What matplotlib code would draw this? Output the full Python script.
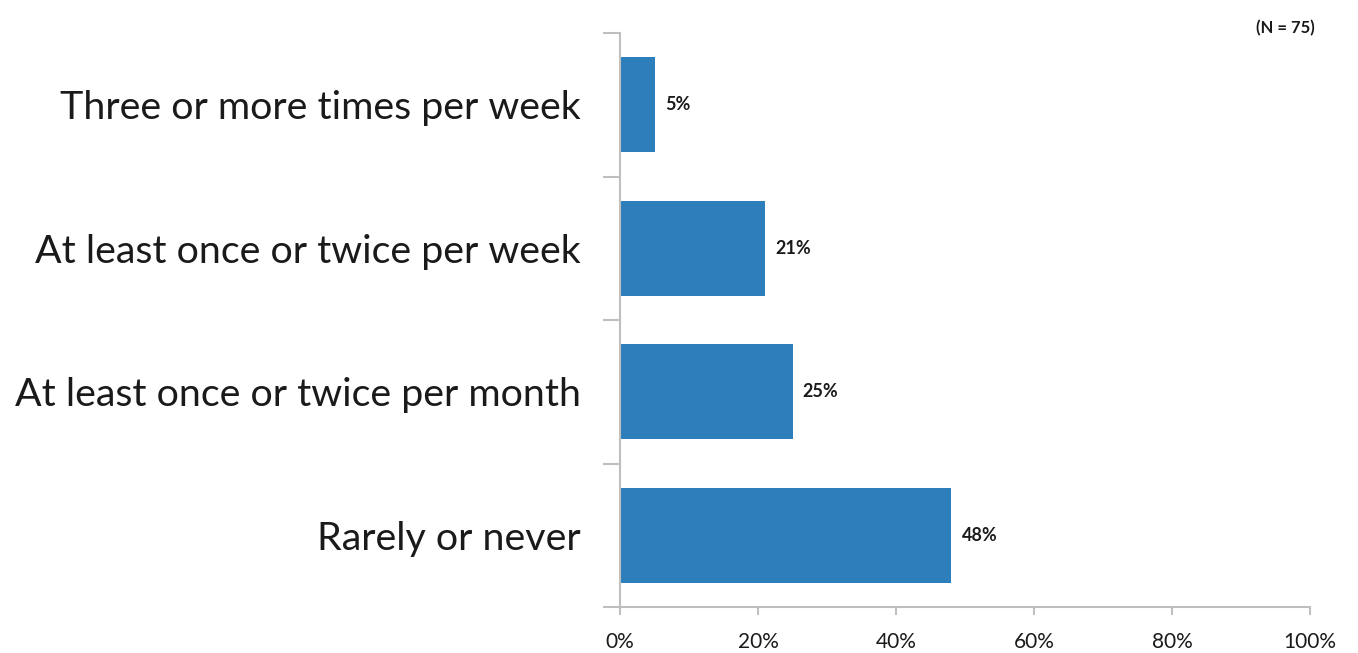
import matplotlib.pyplot as plt

categories = [
    "Three or more times per week",
    "At least once or twice per week",
    "At least once or twice per month",
    "Rarely or never",
]
values = [5, 21, 25, 48]
xticks = [0, 20, 40, 60, 80, 100]

plt.rcParams["font.family"] = ["Lato", "DejaVu Sans"]

fig = plt.figure(figsize=(13.58, 6.53), dpi=100)
ax = fig.add_axes([620 / 1358, 1 - 607 / 653, 690 / 1358, (607 - 33) / 653])

pos = list(range(len(categories)))
ax.barh(pos, values, height=0.66, color="#2E7EBB")
ax.set_ylim(len(categories) - 0.5, -0.5)
ax.set_xlim(0, 100)

for p, v in zip(pos, values):
    ax.text(v + 1.5, p, f"{v}%", va="center", ha="left",
            fontsize=13, fontweight="bold", color="#1a1a1a")

ax.set_yticks(pos)
ax.set_yticklabels(categories, fontsize=28.4, color="#1a1a1a")
ax.set_yticks([-0.5, 0.5, 1.5, 2.5, 3.5], minor=True)
ax.tick_params(axis="y", which="major", length=0, pad=28)
ax.tick_params(axis="y", which="minor", length=12, color="#BFBFBF", width=1.5)

ax.set_xticks(xticks)
ax.set_xticklabels([f"{t}%" for t in xticks], fontsize=15, color="#1a1a1a")
ax.tick_params(axis="x", length=6, color="#BFBFBF", width=1.5, pad=12)

for side in ["top", "right"]:
    ax.spines[side].set_visible(False)
for side in ["left", "bottom"]:
    ax.spines[side].set_color("#BFBFBF")
    ax.spines[side].set_linewidth(1.5)

fig.text(1315 / 1358, 1 - 28 / 653, "(N = 75)", ha="right", va="center",
         fontsize=12, fontweight="bold", color="#1a1a1a")

fig.savefig("out.png", dpi=100)
